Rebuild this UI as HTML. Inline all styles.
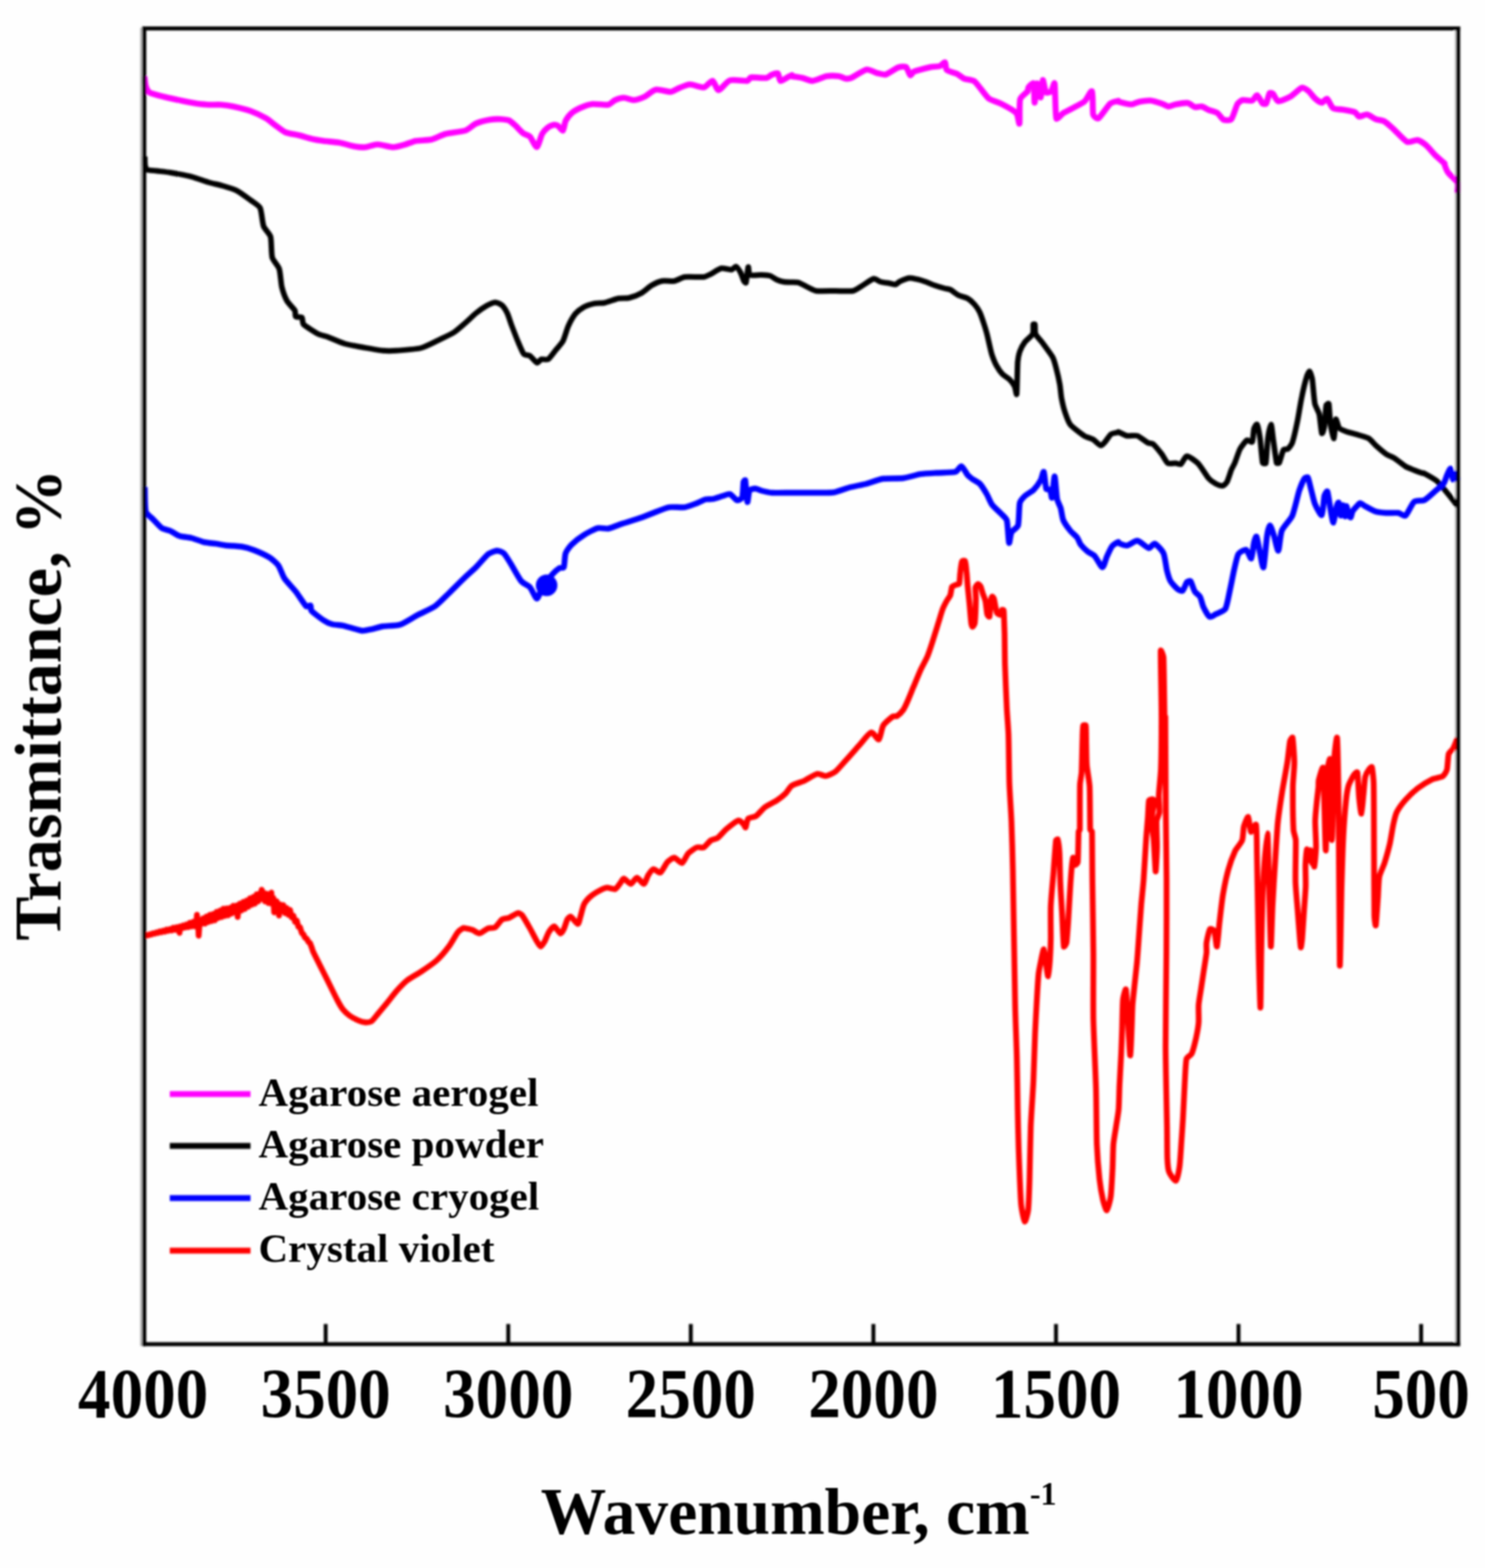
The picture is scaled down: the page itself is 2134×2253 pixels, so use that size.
<!DOCTYPE html>
<html lang="en"><head><meta charset="utf-8"><title>FTIR spectra</title>
<style>html,body{margin:0;padding:0;background:#fefefe}body{width:2134px;height:2253px;overflow:hidden}svg{display:block}text{font-family:"Liberation Serif",serif;font-weight:bold;fill:#000}</style>
</head><body>
<svg width="2134" height="2253" viewBox="0 0 2134 2253">
<defs><clipPath id="plot"><rect x="204.1" y="40.8" width="1894.3" height="1890.6"/></clipPath>
<filter id="soft" x="0" y="0" width="2134" height="2253" filterUnits="userSpaceOnUse"><feGaussianBlur stdDeviation="1.7"/></filter>
<filter id="softt" x="0" y="0" width="2134" height="2253" filterUnits="userSpaceOnUse"><feGaussianBlur stdDeviation="1.2"/></filter></defs>
<rect x="0" y="0" width="2134" height="2253" fill="#fefefe"/>
<g filter="url(#soft)">
<line x1="202.7" y1="39.8" x2="202.7" y2="1933.9" stroke="#b4b4b4" stroke-width="2.6"/>
<line x1="2091.2" y1="43.8" x2="2091.2" y2="1928.4" stroke="#d8d8d8" stroke-width="2"/>
<g clip-path="url(#plot)">
<path d="M207.5 110.0C207.7 111.6 208.6 121.1 209.5 123.8C210.3 126.1 212.8 131.8 215.0 133.0C218.3 134.8 232.2 138.2 237.5 139.5C243.0 140.9 257.2 143.9 262.5 145.0C267.2 146.0 278.1 148.1 282.5 148.8C286.6 149.3 295.9 150.3 300.0 150.5C304.1 150.7 313.4 150.2 317.5 150.5C321.6 150.8 331.0 152.1 335.0 153.0C340.0 154.1 354.5 157.5 360.0 159.5C365.5 161.5 378.4 167.7 382.5 170.0C385.7 171.8 392.0 177.3 395.0 179.5C398.2 181.8 406.1 188.3 410.0 190.0C414.1 191.8 425.4 193.3 430.0 194.5C434.7 195.7 445.9 199.1 450.0 200.0C453.5 200.8 461.5 202.0 465.0 202.5C469.4 203.1 482.3 204.1 487.5 205.0C492.8 205.9 505.6 209.7 510.0 210.5C513.5 211.1 521.5 211.8 525.0 211.5C528.8 211.2 538.3 207.5 542.5 207.5C547.2 207.5 560.3 211.5 565.0 211.5C569.2 211.5 578.7 208.6 582.5 207.5C586.1 206.5 593.9 203.2 597.5 202.5C601.9 201.7 615.0 201.7 620.0 200.5C624.9 199.3 635.1 193.8 640.0 192.5C645.7 191.0 663.9 189.2 669.0 187.5C673.0 186.1 680.2 179.2 684.0 177.5C688.1 175.7 699.9 172.7 704.0 172.0C707.4 171.4 715.8 171.1 719.0 171.2C721.9 171.4 728.9 171.8 731.5 173.0C734.1 174.2 739.3 179.2 741.5 181.2C743.8 183.4 749.2 189.5 751.5 191.2C753.6 192.8 759.7 194.4 761.5 196.2C763.8 198.6 769.5 211.7 771.5 211.2C773.5 210.8 777.2 195.7 779.0 192.5C780.3 190.1 784.6 185.3 786.5 183.8C788.3 182.3 793.5 179.9 795.2 179.5C796.7 179.2 800.2 179.8 801.5 180.5C803.1 181.4 807.7 188.3 809.0 187.5C810.3 186.7 811.3 176.7 812.8 173.8C814.2 170.8 819.0 164.7 821.5 162.5C824.0 160.3 830.9 156.4 834.0 155.0C837.5 153.5 847.2 150.0 851.5 149.5C856.2 149.0 870.2 151.2 874.0 150.5C876.8 150.0 881.4 144.9 884.0 143.8C886.6 142.6 893.5 140.5 896.5 140.5C899.7 140.5 908.0 144.0 911.5 143.8C915.0 143.5 923.2 140.3 926.5 138.8C930.1 137.0 938.4 129.5 942.8 128.8C947.1 128.0 960.1 132.3 964.0 132.0C967.2 131.8 973.5 127.4 976.5 126.2C979.7 125.0 987.8 121.3 991.5 121.2C995.6 121.2 1007.7 126.1 1011.5 125.5C1015.1 124.9 1021.5 115.8 1024.0 116.2C1026.5 116.7 1029.8 129.6 1032.8 129.5C1035.7 129.4 1044.2 117.0 1049.0 115.5C1053.8 114.0 1070.5 116.7 1074.0 116.2C1075.6 116.0 1077.4 111.5 1079.0 111.2C1082.2 110.8 1098.0 112.4 1101.5 112.0C1103.5 111.7 1107.1 108.3 1109.0 107.5C1110.9 106.7 1116.3 104.5 1117.8 105.5C1119.2 106.5 1119.9 115.6 1121.5 116.2C1123.1 116.9 1129.6 112.2 1131.5 111.2C1133.0 110.5 1137.2 108.2 1138.0 108.0C1138.3 107.9 1137.7 109.4 1138.0 109.5C1139.8 110.0 1149.5 111.2 1153.0 112.0C1156.5 112.8 1164.4 116.5 1168.0 116.2C1172.1 116.0 1183.6 110.3 1188.0 109.5C1192.0 108.8 1202.3 109.1 1205.5 109.5C1208.0 109.8 1213.5 112.7 1215.5 113.0C1217.2 113.2 1221.4 112.7 1223.0 112.0C1226.5 110.5 1241.1 100.8 1245.5 100.0C1249.1 99.3 1257.3 104.2 1260.5 105.0C1263.4 105.7 1270.1 107.8 1273.0 107.0C1276.5 106.1 1287.1 98.3 1290.5 97.0C1293.0 96.1 1299.7 95.0 1301.8 96.2C1303.8 97.5 1306.7 107.2 1308.0 108.0C1309.3 108.8 1311.5 103.6 1313.0 103.0C1316.5 101.6 1333.6 97.2 1338.0 96.2C1340.9 95.6 1348.2 95.8 1350.5 95.0C1352.6 94.3 1356.8 88.9 1358.0 89.5C1359.2 90.1 1358.6 98.7 1360.5 100.5C1362.5 102.5 1372.6 104.8 1375.5 106.2C1378.0 107.5 1382.9 111.9 1385.5 113.0C1388.4 114.3 1397.7 114.7 1400.5 117.0C1404.6 120.3 1416.1 137.5 1420.5 141.2C1423.9 144.1 1434.1 146.7 1438.0 148.8C1442.7 151.2 1457.3 159.1 1460.5 162.5C1463.0 165.2 1464.4 179.8 1465.0 177.5C1465.6 175.2 1464.6 147.9 1466.0 142.5C1466.9 139.0 1475.3 133.2 1476.8 131.2C1477.5 130.1 1477.2 126.6 1478.0 125.5C1479.0 124.2 1484.7 118.0 1485.5 120.0C1486.5 122.6 1486.2 147.5 1486.8 147.5C1487.3 147.5 1489.5 120.9 1490.5 120.0C1491.5 119.1 1494.6 140.6 1495.5 140.0C1496.4 139.4 1497.6 115.9 1498.5 115.0C1499.4 114.1 1501.6 130.6 1503.0 132.5C1504.1 133.9 1509.2 132.5 1510.5 131.2C1512.0 129.8 1515.0 117.2 1515.5 120.0C1516.4 124.5 1516.5 165.0 1518.0 170.0C1518.8 172.8 1525.5 164.0 1528.0 162.5C1532.7 159.7 1553.2 149.9 1558.0 146.2C1561.5 143.6 1567.7 129.1 1569.2 131.2C1570.8 133.4 1569.9 160.5 1571.0 165.0C1571.5 167.0 1576.7 171.2 1578.5 170.0C1581.4 168.1 1592.2 151.7 1595.5 148.8C1597.6 146.9 1605.7 145.3 1607.0 145.0C1607.3 144.9 1606.7 146.2 1607.0 146.2C1609.2 146.8 1622.2 150.0 1625.8 150.0C1628.5 150.0 1634.3 146.8 1637.0 146.2C1640.2 145.6 1649.5 144.2 1653.2 144.5C1657.0 144.8 1666.4 147.8 1669.5 148.8C1671.9 149.5 1677.2 152.9 1679.5 153.0C1681.8 153.1 1687.1 150.4 1689.5 150.0C1692.7 149.4 1703.8 147.6 1707.0 148.0C1709.7 148.4 1714.7 153.2 1717.0 153.8C1719.3 154.3 1724.7 152.5 1727.0 153.0C1729.3 153.5 1734.6 157.0 1737.0 158.0C1739.6 159.1 1747.0 160.9 1749.5 162.5C1752.0 164.1 1755.9 171.0 1758.2 172.0C1760.6 173.0 1767.8 173.2 1769.5 171.2C1771.8 168.6 1776.4 152.7 1778.2 149.5C1779.4 147.6 1783.6 144.3 1785.8 143.8C1788.2 143.2 1797.1 145.3 1799.5 144.5C1801.8 143.8 1804.8 136.5 1806.5 137.0C1808.2 137.5 1813.0 147.4 1814.5 148.8C1815.4 149.5 1818.9 149.7 1819.5 148.8C1820.7 147.0 1823.3 135.4 1824.5 133.8C1825.2 132.8 1828.6 134.2 1829.5 135.0C1831.0 136.4 1834.1 145.1 1837.0 145.5C1839.9 145.9 1850.7 140.9 1854.5 138.8C1858.4 136.5 1867.7 127.1 1870.8 126.2C1873.3 125.5 1878.7 129.6 1880.8 131.2C1882.9 133.0 1887.3 139.4 1889.5 141.2C1891.6 143.1 1897.5 147.4 1899.5 147.5C1901.5 147.6 1905.1 141.1 1907.0 142.0C1908.9 142.9 1913.1 153.7 1915.8 155.5C1918.4 157.3 1926.3 156.9 1929.5 157.5C1933.1 158.2 1944.2 160.1 1947.0 161.2C1948.9 162.1 1951.2 167.1 1953.2 167.5C1955.3 167.9 1961.8 164.1 1964.5 164.5C1967.3 164.9 1974.1 170.1 1977.0 171.2C1979.8 172.4 1986.9 173.0 1989.5 174.5C1992.4 176.1 1999.2 182.5 2002.0 185.0C2005.8 188.4 2017.9 201.9 2022.0 203.8C2025.2 205.2 2033.8 200.7 2037.0 201.2C2040.2 201.8 2046.9 206.5 2049.5 208.8C2052.4 211.2 2058.9 219.4 2062.0 222.5C2065.1 225.6 2074.5 233.6 2076.0 235.0C2076.2 235.2 2075.1 234.3 2075.2 234.5C2075.7 236.0 2078.6 244.7 2080.5 247.3C2082.7 250.6 2092.7 258.8 2094.3 262.3C2095.8 265.4 2094.3 275.4 2094.3 277.2" fill="none" stroke="#ff00ff" stroke-width="8.6" stroke-linejoin="round" stroke-linecap="butt"/>
<path d="M208.0 225.0C208.1 226.5 208.1 235.3 208.5 237.5C208.8 239.1 209.8 243.1 211.2 243.8C213.2 244.7 221.8 245.1 225.0 245.5C228.9 246.0 240.4 247.2 245.0 248.0C250.8 249.0 268.6 252.1 275.0 253.8C281.0 255.3 294.8 260.5 300.0 262.0C304.6 263.4 315.4 265.6 320.0 267.0C324.7 268.4 335.6 271.5 340.0 273.8C344.7 276.1 356.1 284.6 360.0 287.5C363.3 290.0 371.9 295.0 373.8 298.8C375.9 303.1 377.0 320.2 378.8 325.0C380.2 329.0 387.6 335.9 388.8 340.0C390.2 345.2 389.8 364.6 391.2 370.0C392.4 374.3 399.9 382.0 401.2 386.2C402.9 391.2 403.7 407.1 405.0 412.5C406.2 417.3 410.3 428.6 412.5 432.5C414.5 436.1 422.3 443.6 423.8 446.2C424.8 448.1 423.8 453.8 425.0 455.0C426.2 456.2 432.4 454.9 433.8 456.2C435.1 457.6 434.5 464.5 436.2 466.2C439.0 469.0 453.6 478.0 457.5 480.0C460.2 481.4 467.1 482.7 470.0 483.8C474.4 485.4 489.2 492.0 495.0 493.8C500.7 495.5 514.1 497.7 520.0 498.8C526.4 499.9 544.2 503.2 550.0 503.8C554.6 504.2 565.3 504.1 570.0 503.8C576.4 503.3 598.0 501.8 605.0 500.0C611.2 498.4 624.5 491.4 630.0 488.8C635.3 486.2 648.0 480.4 652.5 477.5C656.7 474.8 665.3 467.0 669.0 463.8C672.6 460.6 680.5 452.8 684.0 450.0C687.3 447.3 695.8 441.3 699.0 439.5C701.7 438.0 708.9 434.6 711.5 434.5C714.0 434.4 719.6 437.1 721.5 438.8C723.5 440.6 727.6 447.2 729.0 450.0C730.6 453.4 733.7 463.4 735.2 467.5C737.0 472.2 742.0 485.2 744.0 490.0C745.9 494.4 750.7 506.3 752.8 508.8C754.1 510.4 759.7 510.1 761.5 511.2C763.7 512.7 769.6 520.7 771.5 521.2C773.3 521.8 776.0 516.8 777.8 516.2C779.6 515.7 785.8 517.5 787.8 516.2C790.2 514.6 796.5 505.6 799.0 502.5C801.4 499.6 807.3 493.3 809.0 490.0C811.0 486.1 814.5 473.3 816.5 468.8C818.4 464.5 823.9 454.5 826.5 451.2C828.9 448.4 835.8 443.0 839.0 441.2C842.2 439.5 850.5 437.0 854.0 436.2C857.4 435.5 865.6 435.7 869.0 435.0C873.1 434.1 884.9 429.6 889.0 428.8C892.4 428.1 900.6 428.8 904.0 428.0C907.8 427.1 917.7 423.4 921.5 421.2C925.3 419.1 933.0 412.0 936.5 410.0C939.8 408.1 947.8 404.5 951.5 403.8C955.3 403.0 965.2 404.4 969.0 403.8C972.7 403.1 980.3 398.5 984.0 398.0C989.0 397.3 1007.1 398.5 1011.5 398.0C1014.0 397.7 1019.2 394.9 1021.5 393.8C1024.4 392.3 1033.0 386.2 1036.5 385.5C1040.0 384.8 1049.0 387.8 1051.5 387.5C1053.3 387.3 1056.3 382.6 1057.8 383.0C1059.2 383.4 1062.8 389.1 1064.0 391.2C1065.3 393.7 1068.1 402.0 1069.0 403.8C1069.4 404.6 1071.7 407.1 1072.0 406.2C1072.7 403.9 1074.6 385.1 1075.2 383.8C1075.9 382.4 1075.6 393.7 1077.8 395.0C1079.9 396.3 1090.6 394.9 1094.0 395.0C1096.9 395.1 1103.9 395.4 1106.5 396.2C1109.1 397.0 1114.2 401.0 1116.5 402.0C1118.7 403.0 1124.1 404.6 1126.5 405.0C1129.0 405.4 1136.7 405.4 1138.0 405.5C1138.0 405.5 1138.0 405.5 1138.0 405.5C1139.2 405.6 1145.8 405.6 1148.0 406.2C1150.6 407.1 1157.6 411.1 1160.5 412.5C1163.4 413.9 1169.8 417.6 1173.0 418.0C1177.7 418.6 1194.4 418.0 1200.5 418.0C1206.3 418.0 1221.1 418.8 1225.5 418.0C1228.8 417.4 1235.1 412.9 1238.0 411.2C1241.5 409.2 1252.3 401.2 1255.5 400.5C1258.0 399.9 1263.0 404.3 1265.5 405.0C1268.1 405.8 1275.5 406.6 1278.0 407.0C1280.1 407.4 1285.0 409.0 1286.8 408.8C1288.5 408.5 1291.4 405.2 1293.0 404.5C1295.3 403.4 1303.8 399.9 1306.8 399.5C1309.4 399.2 1315.4 400.7 1318.0 401.2C1320.8 401.9 1327.6 404.0 1330.5 405.0C1333.4 406.0 1340.0 409.0 1343.0 410.0C1346.2 411.1 1355.4 413.8 1358.0 414.5C1359.7 415.0 1363.9 415.4 1365.5 416.2C1367.8 417.4 1375.1 423.0 1378.0 424.5C1380.8 425.9 1387.9 427.2 1390.5 428.8C1393.1 430.3 1398.5 435.2 1400.5 437.5C1402.5 439.8 1406.6 445.9 1408.0 448.8C1409.5 451.7 1411.9 459.3 1413.0 462.5C1414.2 466.0 1417.0 475.0 1418.0 478.8C1419.0 482.5 1420.9 491.4 1421.8 495.0C1422.6 498.5 1424.4 506.6 1425.5 510.0C1426.7 513.5 1430.0 521.8 1431.8 525.0C1433.5 528.1 1438.3 535.2 1440.5 537.5C1442.5 539.6 1448.5 543.0 1450.5 545.0C1452.5 547.0 1456.8 552.5 1458.0 555.0C1459.2 557.4 1460.7 568.9 1461.0 566.2C1461.5 562.2 1462.0 527.1 1462.5 520.0C1462.8 516.4 1464.3 508.4 1465.5 505.0C1466.7 501.6 1470.8 494.2 1473.0 491.2C1475.2 488.3 1482.6 482.9 1484.0 480.0C1485.4 477.1 1484.4 467.9 1484.8 466.2C1484.9 465.7 1487.1 465.7 1487.2 466.2C1487.7 467.9 1487.0 477.0 1488.2 480.0C1489.5 483.1 1495.8 489.5 1498.0 492.5C1500.9 496.4 1510.7 509.4 1513.0 513.8C1514.9 517.3 1517.0 526.2 1518.0 530.0C1519.2 534.5 1522.1 547.5 1523.0 552.5C1523.8 557.1 1524.6 567.9 1525.5 572.5C1526.4 577.2 1529.0 588.1 1530.5 592.5C1531.9 596.7 1535.2 606.6 1538.0 610.0C1541.2 613.9 1554.2 623.8 1558.0 626.2C1560.6 628.0 1567.8 629.7 1570.5 631.2C1573.3 632.9 1579.7 639.6 1581.8 640.0C1583.6 640.4 1586.7 636.4 1588.0 635.0C1589.8 633.1 1594.5 625.4 1596.8 623.8C1598.7 622.3 1605.8 621.6 1607.0 621.2C1607.2 621.2 1606.8 620.4 1607.0 620.5C1608.5 621.1 1616.4 625.6 1619.5 626.2C1622.7 626.9 1631.2 625.1 1634.5 626.2C1638.0 627.4 1646.9 634.9 1649.5 636.2C1651.1 637.1 1655.6 636.9 1657.0 638.0C1659.3 639.9 1667.0 649.3 1669.5 652.5C1671.7 655.4 1675.9 664.0 1678.2 665.5C1680.5 666.9 1687.3 665.3 1689.5 665.5C1691.3 665.6 1695.5 667.9 1697.0 667.0C1698.9 665.8 1702.8 655.6 1705.8 655.5C1708.7 655.4 1718.8 663.0 1722.0 666.2C1725.6 670.0 1734.1 684.1 1737.0 687.5C1738.9 689.7 1744.7 693.8 1747.0 695.0C1749.2 696.1 1755.1 698.3 1757.0 698.0C1758.9 697.7 1762.3 694.2 1763.2 692.5C1764.7 689.8 1768.2 678.2 1769.5 675.0C1770.5 672.6 1773.5 667.4 1774.5 665.0C1776.0 661.5 1780.0 648.8 1782.0 645.0C1783.8 641.7 1790.0 633.7 1792.0 632.5C1793.6 631.6 1798.5 636.6 1799.5 635.0C1800.7 633.1 1801.2 619.2 1802.0 616.2C1802.5 614.5 1805.5 608.5 1806.5 610.0C1807.5 611.6 1810.1 625.3 1810.8 630.0C1811.7 636.4 1813.5 660.9 1814.5 665.0C1814.7 666.0 1818.8 666.5 1819.0 665.5C1819.9 661.4 1821.1 636.5 1822.0 630.0C1822.6 625.3 1825.6 610.0 1826.5 610.0C1827.4 610.0 1828.8 625.3 1829.5 630.0C1830.4 636.4 1833.5 660.9 1834.5 665.0C1834.7 665.8 1837.8 665.8 1838.2 665.0C1839.4 662.8 1843.0 648.6 1844.5 646.2C1845.3 645.0 1849.6 645.9 1850.8 645.0C1852.2 643.8 1856.2 638.6 1857.0 636.2C1858.6 631.6 1863.0 612.3 1864.5 605.0C1866.1 597.3 1869.1 577.6 1870.8 570.0C1872.2 562.9 1876.9 544.2 1878.2 540.0C1878.8 538.4 1881.1 533.2 1882.0 533.8C1882.9 534.3 1885.3 542.3 1885.8 545.0C1886.6 550.4 1888.3 574.2 1889.5 580.0C1890.2 583.7 1894.9 591.3 1895.8 595.0C1896.9 600.0 1898.6 620.5 1899.5 622.5C1900.4 624.5 1902.9 615.0 1903.2 612.5C1904.0 607.8 1905.0 586.3 1905.8 582.5C1905.9 581.5 1909.3 579.0 1909.5 580.0C1910.2 583.2 1911.1 604.2 1912.0 610.0C1912.7 614.8 1916.1 630.9 1917.0 630.0C1917.9 629.1 1918.6 604.2 1919.5 602.5C1920.4 600.8 1922.8 613.0 1924.5 615.0C1926.2 617.0 1932.0 619.1 1934.5 620.0C1937.7 621.2 1948.2 623.8 1952.0 625.0C1955.5 626.1 1964.1 628.2 1967.0 630.0C1969.8 631.7 1974.5 637.8 1977.0 640.0C1979.9 642.6 1988.8 650.3 1992.0 652.5C1994.7 654.3 2001.7 657.0 2004.5 658.8C2007.7 660.8 2016.3 668.0 2019.5 670.0C2022.2 671.7 2029.1 674.3 2032.0 675.5C2034.9 676.7 2042.9 679.5 2044.5 680.0C2044.8 680.1 2045.6 679.6 2045.9 679.7C2048.3 681.0 2060.8 687.7 2064.7 691.0C2068.7 694.5 2077.4 705.5 2080.9 709.7C2084.2 713.7 2093.0 725.1 2094.6 727.1" fill="none" stroke="#000000" stroke-width="8.0" stroke-linejoin="round" stroke-linecap="butt"/>
<path d="M208.0 700.0C208.2 704.1 208.1 729.6 209.5 735.0C210.4 738.5 217.5 743.7 220.0 746.2C222.7 749.0 229.6 756.8 232.5 758.8C235.1 760.5 242.2 761.7 245.0 763.0C247.9 764.3 254.3 768.9 257.5 770.0C261.0 771.2 271.0 772.0 275.0 773.0C279.1 774.0 288.4 777.8 292.5 778.8C296.5 779.7 306.2 780.7 310.0 781.2C313.5 781.8 321.5 783.4 325.0 783.8C329.4 784.2 342.8 784.7 347.5 785.5C351.7 786.2 361.0 788.9 365.0 790.5C369.7 792.3 383.4 798.7 387.5 801.2C390.8 803.3 397.7 809.3 400.0 812.5C402.5 816.0 406.1 827.2 408.8 831.2C411.7 835.6 421.4 845.4 425.0 850.0C428.6 854.7 437.5 868.9 440.0 871.2C441.1 872.3 445.4 869.3 446.2 870.0C447.1 870.7 446.3 876.2 447.5 877.5C449.7 880.0 461.5 889.0 465.0 891.2C467.7 893.0 474.4 896.2 477.5 897.0C480.7 897.9 489.1 898.0 492.5 898.8C497.5 899.8 515.0 905.7 520.0 906.2C523.5 906.7 531.5 904.5 535.0 903.8C538.5 903.0 546.4 900.6 550.0 900.0C554.7 899.3 569.4 899.3 575.0 897.5C580.8 895.6 594.2 886.8 600.0 883.8C605.8 880.7 619.8 874.9 625.0 871.2C630.2 867.6 640.4 856.9 645.0 852.5C650.1 847.5 664.5 833.1 669.0 828.8C672.4 825.5 680.6 818.4 684.0 815.0C687.8 811.2 698.0 799.0 701.5 796.2C704.0 794.3 711.4 791.4 714.0 791.2C716.5 791.1 722.2 793.3 724.0 795.0C726.3 797.2 731.8 806.4 734.0 810.0C736.9 814.7 745.8 831.1 749.0 835.0C751.2 837.8 759.1 841.1 761.5 843.8C764.1 846.7 769.5 859.9 771.5 860.0C773.5 860.1 776.9 848.3 779.0 845.0C781.6 840.9 791.1 828.4 794.0 825.0C796.0 822.7 802.1 817.4 804.0 816.2C805.3 815.5 809.7 816.4 810.2 815.0C811.3 812.5 811.4 798.8 812.8 795.0C813.9 791.6 819.0 785.0 821.5 782.5C824.6 779.4 834.6 771.5 839.0 768.8C843.4 766.0 854.9 759.8 859.0 758.8C862.4 757.9 870.6 760.1 874.0 759.5C878.1 758.8 889.3 754.1 894.0 752.5C899.5 750.7 915.7 745.8 921.5 743.8C926.8 741.9 939.3 736.8 944.0 735.0C948.1 733.5 957.2 729.4 961.5 728.8C966.2 728.0 979.3 729.4 984.0 728.8C988.3 728.1 998.0 724.3 1001.5 723.0C1004.5 721.9 1011.4 718.2 1014.0 717.5C1016.3 716.9 1021.7 717.5 1024.0 717.0C1026.9 716.4 1036.1 713.3 1039.0 712.5C1041.3 711.9 1046.7 709.3 1049.0 710.0C1051.3 710.7 1057.0 718.2 1059.0 718.8C1060.9 719.3 1065.8 716.8 1066.5 715.0C1067.6 711.9 1068.0 695.4 1068.5 692.5C1068.6 691.7 1070.8 689.2 1071.0 690.0C1071.6 693.4 1073.3 719.5 1074.0 721.2C1074.7 723.0 1075.7 707.2 1077.0 705.0C1078.0 703.2 1083.3 702.0 1085.2 702.0C1087.2 702.0 1091.9 704.5 1094.0 705.0C1096.8 705.7 1105.4 707.8 1109.0 708.0C1114.1 708.4 1131.2 708.0 1138.0 708.0C1144.9 708.0 1161.0 708.1 1168.0 708.0C1175.0 707.9 1191.9 708.4 1198.0 707.5C1203.4 706.7 1215.2 701.9 1220.5 700.5C1226.0 699.0 1240.0 696.5 1245.5 695.0C1250.8 693.6 1262.6 688.8 1268.0 688.0C1274.1 687.1 1291.6 687.8 1298.0 687.0C1303.9 686.3 1317.5 682.1 1323.0 681.2C1328.2 680.4 1340.2 679.8 1345.5 679.5C1351.3 679.1 1368.8 679.1 1373.0 678.0C1375.7 677.3 1379.7 669.5 1381.8 670.0C1383.8 670.5 1388.6 680.3 1390.5 682.5C1392.0 684.2 1396.1 687.4 1398.0 688.8C1400.0 690.2 1406.1 693.0 1408.0 695.0C1410.3 697.5 1416.0 706.5 1418.0 710.0C1420.0 713.4 1423.2 721.8 1425.5 725.0C1427.8 728.2 1435.5 734.9 1438.0 737.5C1440.1 739.8 1445.9 744.5 1446.8 747.5C1448.2 752.5 1449.2 778.0 1450.0 780.0C1450.8 782.0 1452.0 767.9 1453.5 765.0C1455.0 762.1 1462.1 758.1 1463.0 755.0C1464.4 750.0 1464.3 727.5 1465.5 722.5C1466.2 719.7 1470.9 714.5 1473.0 712.5C1475.3 710.3 1483.0 706.3 1485.5 703.8C1488.1 701.1 1493.8 693.0 1495.5 690.0C1497.0 687.4 1499.1 676.5 1500.0 678.0C1500.9 679.5 1502.4 699.5 1503.5 702.5C1504.0 703.8 1508.5 702.6 1509.2 703.8C1510.2 705.2 1511.0 717.2 1511.8 715.0C1512.5 712.8 1514.6 684.2 1515.5 684.5C1516.4 684.8 1518.2 712.2 1519.2 717.5C1519.8 720.6 1523.4 727.0 1524.2 730.0C1525.3 733.5 1526.4 743.7 1528.0 747.5C1529.6 751.3 1535.7 759.6 1538.0 762.5C1540.1 765.1 1546.2 770.2 1548.0 772.5C1549.6 774.6 1551.4 780.4 1553.0 782.5C1554.8 784.8 1560.7 790.6 1563.0 792.5C1565.1 794.2 1571.1 796.7 1573.0 798.8C1575.5 801.4 1582.2 814.9 1584.2 815.0C1586.3 815.1 1588.9 803.4 1590.5 800.0C1592.1 796.5 1596.1 787.5 1598.0 785.0C1599.6 783.0 1606.0 779.3 1607.0 778.8C1607.3 778.6 1606.7 779.9 1607.0 780.0C1608.5 780.6 1616.5 784.1 1619.5 783.8C1622.7 783.4 1630.9 776.6 1634.5 777.0C1638.1 777.4 1647.8 787.0 1650.8 787.5C1653.2 787.9 1657.1 780.4 1659.5 781.2C1662.0 782.1 1670.2 791.0 1672.0 795.0C1674.0 799.5 1675.8 815.3 1677.0 820.0C1677.9 823.6 1680.2 831.9 1682.0 835.0C1683.7 838.0 1690.0 844.6 1692.0 846.2C1693.5 847.4 1698.0 849.8 1699.5 848.8C1701.1 847.6 1704.4 837.9 1705.8 836.2C1706.5 835.3 1710.0 834.1 1710.8 835.0C1712.1 836.6 1715.4 847.4 1717.0 850.0C1718.3 852.1 1723.3 855.3 1724.5 857.5C1726.0 860.1 1727.9 869.2 1729.5 872.5C1731.1 875.9 1736.2 885.1 1738.2 886.2C1740.2 887.4 1745.0 883.5 1747.0 882.5C1749.6 881.2 1758.8 878.1 1760.8 875.0C1763.1 871.2 1765.7 855.9 1767.0 850.0C1768.5 843.6 1771.8 826.3 1773.2 820.0C1774.5 814.4 1777.5 799.8 1779.5 796.2C1781.0 793.7 1788.6 789.3 1790.8 790.0C1792.9 790.7 1796.9 803.7 1798.2 802.5C1799.6 801.3 1801.1 783.6 1802.0 780.0C1802.5 777.8 1804.7 769.5 1805.8 771.2C1806.8 773.0 1809.6 789.9 1810.8 795.0C1811.8 799.7 1814.6 817.9 1815.8 815.0C1816.9 812.1 1819.7 777.0 1820.8 770.0C1821.3 766.4 1823.8 755.0 1825.0 755.0C1826.2 755.0 1829.6 766.4 1830.8 770.0C1832.2 774.2 1835.7 792.1 1837.0 791.2C1838.3 790.4 1839.7 768.3 1842.0 762.5C1844.3 756.9 1854.6 746.8 1857.0 741.2C1859.9 734.5 1865.0 711.3 1867.0 705.0C1868.4 700.8 1873.0 689.7 1874.5 687.5C1875.2 686.5 1878.9 685.2 1879.5 686.2C1880.7 688.3 1883.3 700.6 1884.5 705.0C1885.7 709.4 1887.8 719.7 1889.5 723.8C1891.2 727.8 1897.9 741.3 1899.5 740.0C1901.1 738.7 1902.3 716.4 1903.2 712.5C1903.7 710.8 1906.8 704.6 1907.5 706.2C1908.6 708.9 1911.5 729.8 1912.5 735.0C1913.2 738.7 1915.3 751.6 1916.2 750.8C1917.2 749.9 1919.9 730.8 1920.8 727.5C1921.1 726.1 1923.2 721.0 1923.8 722.2C1924.5 723.8 1926.0 740.3 1926.8 740.8C1927.5 741.2 1929.3 725.9 1930.0 726.0C1930.7 726.1 1932.2 741.9 1932.8 742.0C1933.3 742.1 1934.4 727.4 1935.0 727.2C1935.6 727.1 1937.3 738.9 1938.0 740.8C1938.3 741.6 1940.6 744.0 1941.2 743.2C1941.9 742.5 1942.7 736.4 1943.8 734.5C1944.8 732.6 1948.7 728.6 1950.0 727.2C1951.0 726.2 1953.1 723.0 1954.5 723.0C1955.9 723.0 1960.2 726.5 1962.0 727.5C1964.6 728.9 1973.5 733.9 1977.0 735.0C1980.4 736.1 1988.5 736.8 1992.0 737.0C1995.8 737.2 2006.3 736.5 2009.5 737.0C2012.0 737.4 2017.7 742.3 2019.7 740.9C2022.4 739.0 2029.0 723.5 2032.2 720.9C2035.0 718.7 2044.0 720.0 2047.2 718.4C2050.7 716.7 2059.0 708.7 2062.2 705.9C2065.1 703.4 2072.6 697.5 2074.6 694.7C2076.5 692.2 2078.5 684.7 2079.6 682.2C2080.6 680.1 2083.6 672.7 2084.6 673.5C2085.6 674.3 2087.3 688.3 2088.1 689.1C2088.9 689.9 2090.6 680.2 2091.5 680.4C2092.3 680.5 2094.8 689.2 2095.2 690.3" fill="none" stroke="#0000ff" stroke-width="8.4" stroke-linejoin="round" stroke-linecap="butt"/>
<circle cx="785.5" cy="841" r="15.5" fill="#0000ff"/>
<path d="M208.0 1344.9L210.4 1343.6L212.8 1344.0L215.2 1342.3L217.6 1342.9L220.0 1340.9L222.4 1341.6L224.8 1339.6L227.2 1340.5L229.6 1338.3L232.0 1339.6L234.4 1337.3L236.8 1338.8L239.2 1335.7L241.6 1337.7L244.0 1334.8L246.4 1337.1L248.8 1333.0L251.2 1336.2L253.6 1332.2L256.0 1335.7L258.0 1340.5L258.4 1331.2L260.8 1334.5L263.2 1329.6L265.6 1332.9L268.0 1328.3L270.4 1332.2L272.8 1325.8L275.2 1331.1L277.6 1324.5L280.0 1331.0L282.4 1323.3L283.0 1314.5L284.8 1329.8L285.5 1344.5L287.2 1321.9L289.6 1327.4L292.0 1319.5L294.4 1327.2L296.8 1316.8L299.2 1324.9L301.6 1314.4L304.0 1323.5L306.4 1313.2L308.8 1322.4L311.2 1310.2L313.6 1319.0L316.0 1308.4L318.4 1317.7L320.8 1305.6L323.2 1316.1L325.6 1305.2L328.0 1315.3L330.4 1304.4L332.8 1312.7L335.2 1301.5L337.6 1310.8L340.0 1301.0L341.5 1317.5L342.4 1309.1L344.8 1298.3L347.2 1308.3L349.6 1295.9L352.0 1306.0L354.4 1294.0L356.8 1302.9L359.2 1290.7L361.6 1300.2L364.0 1288.7L366.4 1298.5L368.8 1285.0L371.2 1295.2L373.6 1283.3L376.0 1291.7L376.0 1278.5L378.4 1283.0L380.8 1295.2L383.2 1284.1L385.6 1297.6L388.0 1287.9L390.0 1282.5L390.4 1298.7L392.8 1290.2L394.0 1311.0L395.2 1301.9L397.6 1294.9L400.0 1306.5L401.0 1315.5L402.4 1299.5L404.8 1309.2L407.2 1300.4L409.6 1312.0L412.0 1304.7L414.4 1314.5L416.8 1307.4L419.2 1318.2L421.6 1315.7L424.0 1324.6L426.4 1322.6L428.8 1331.8L431.2 1332.4L433.6 1340.4L436.0 1342.6L438.4 1347.5L440.8 1348.9L443.2 1353.3L445.6 1355.3L448.0 1361.5C448.5 1362.9 449.4 1366.2 450.0 1367.5C451.7 1371.1 459.6 1386.7 462.5 1392.5C465.4 1398.3 472.4 1412.2 475.0 1417.5C477.3 1422.2 483.0 1433.7 485.0 1437.5C486.6 1440.5 490.5 1447.4 492.5 1450.0C494.5 1452.5 499.9 1457.6 502.5 1459.5C505.1 1461.4 512.4 1465.1 515.0 1466.2C517.2 1467.2 522.8 1468.9 525.0 1469.0C527.1 1469.1 532.0 1468.6 533.8 1467.5C535.8 1466.2 540.5 1459.9 542.5 1457.5C545.0 1454.6 552.1 1446.0 555.0 1442.5C558.2 1438.6 566.5 1427.7 570.0 1423.8C573.3 1420.1 581.1 1411.8 585.0 1408.8C589.1 1405.5 600.4 1399.3 605.0 1396.2C610.0 1392.9 622.8 1384.2 627.5 1380.0C632.1 1375.8 641.5 1364.7 645.0 1360.0C648.3 1355.6 655.2 1343.1 657.5 1340.0C658.9 1338.2 663.7 1334.5 665.0 1333.8C665.8 1333.3 668.1 1333.6 669.0 1333.8C670.6 1334.0 676.7 1335.4 679.0 1336.2C681.3 1337.1 686.4 1341.5 689.0 1341.2C691.6 1341.0 698.9 1334.8 701.5 1333.8C703.7 1332.9 709.5 1333.7 711.5 1332.5C713.8 1331.0 719.2 1322.9 721.5 1321.2C723.5 1319.9 729.3 1319.7 731.5 1318.8C734.1 1317.7 741.8 1312.4 744.0 1312.0C745.6 1311.7 749.2 1313.7 750.2 1315.0C752.3 1317.5 759.0 1329.4 761.5 1333.8C763.9 1338.1 769.7 1349.4 771.5 1352.5C772.6 1354.4 775.7 1360.0 777.0 1360.0C778.3 1360.0 781.7 1354.4 782.8 1352.5C784.1 1350.0 787.4 1341.2 789.0 1338.8C790.3 1336.7 794.6 1331.0 796.5 1331.2C798.4 1331.5 803.6 1340.8 805.2 1341.2C806.9 1341.7 809.4 1336.7 810.2 1335.0C811.4 1332.7 814.1 1323.3 815.2 1321.2C816.0 1319.9 818.8 1316.4 820.2 1317.0C822.0 1317.7 828.6 1327.4 830.2 1327.5C831.9 1327.6 833.2 1319.9 834.0 1317.5C835.0 1314.3 837.5 1303.2 839.0 1300.0C840.2 1297.3 844.5 1292.0 846.5 1290.0C848.5 1288.0 854.0 1284.0 856.5 1282.5C859.4 1280.8 868.3 1276.1 871.5 1275.5C874.4 1275.0 881.7 1278.3 884.0 1277.5C886.3 1276.7 890.0 1270.5 891.5 1268.8C892.7 1267.3 894.8 1262.4 896.5 1262.5C898.2 1262.6 904.3 1270.1 906.5 1270.0C908.7 1269.9 913.1 1261.2 915.2 1261.2C917.4 1261.2 923.4 1270.4 925.2 1270.0C927.1 1269.6 929.9 1260.0 931.5 1257.5C933.0 1255.2 937.0 1249.2 939.0 1248.8C941.0 1248.3 946.7 1254.9 949.0 1253.8C951.3 1252.6 956.7 1241.2 959.0 1238.8C960.9 1236.7 966.5 1232.4 969.0 1232.5C971.5 1232.6 977.9 1240.7 980.2 1240.0C982.6 1239.3 986.5 1228.9 989.0 1226.2C991.4 1223.7 998.9 1218.5 1001.5 1217.5C1003.7 1216.7 1009.4 1218.5 1011.5 1217.5C1013.8 1216.3 1019.2 1209.1 1021.5 1207.5C1023.6 1206.1 1029.5 1205.2 1031.5 1203.8C1034.1 1201.9 1040.8 1193.9 1044.0 1191.2C1047.5 1188.3 1058.6 1179.5 1061.5 1178.8C1063.7 1178.2 1067.8 1183.8 1069.0 1185.0C1069.7 1185.7 1070.9 1189.6 1071.5 1188.8C1072.2 1187.7 1073.5 1178.1 1075.2 1176.2C1077.0 1174.4 1084.2 1174.1 1086.5 1172.5C1089.3 1170.6 1095.7 1162.5 1099.0 1160.0C1102.5 1157.4 1113.0 1152.3 1116.5 1150.0C1119.6 1147.9 1126.5 1142.5 1129.0 1140.0C1131.4 1137.6 1135.2 1130.6 1138.0 1128.8C1141.1 1126.7 1151.5 1123.8 1155.5 1122.0C1159.7 1120.0 1170.6 1112.8 1174.2 1112.0C1177.2 1111.3 1183.8 1115.4 1186.8 1115.0C1189.8 1114.6 1197.7 1110.9 1200.5 1108.8C1203.9 1106.1 1212.0 1096.3 1215.5 1092.5C1219.6 1088.0 1231.3 1074.7 1235.5 1070.0C1239.2 1065.9 1248.5 1053.4 1251.8 1052.5C1255.0 1051.6 1261.0 1063.7 1263.0 1062.5C1265.0 1061.3 1266.9 1046.3 1269.2 1042.5C1271.5 1038.7 1280.7 1031.1 1283.0 1029.5C1284.2 1028.7 1288.0 1029.5 1289.2 1028.8C1291.0 1027.6 1296.3 1022.4 1298.0 1020.0C1299.8 1017.5 1302.9 1010.5 1304.2 1007.5C1306.0 1003.6 1310.9 991.2 1313.0 986.2C1315.2 981.0 1320.7 967.6 1323.0 962.5C1325.2 957.8 1331.1 947.3 1333.0 942.5C1335.4 936.4 1342.1 915.5 1343.8 910.0C1344.9 906.6 1347.3 898.9 1348.3 895.5C1349.6 891.5 1353.2 879.0 1354.7 875.1C1355.9 872.0 1359.8 864.6 1361.1 862.3C1362.0 860.6 1364.9 857.1 1365.6 855.2C1366.4 853.0 1367.3 844.8 1368.1 843.1C1368.8 841.9 1372.1 841.1 1373.3 840.5C1374.4 840.0 1377.9 839.8 1378.4 838.6C1379.2 836.5 1379.5 825.7 1380.0 822.0C1380.4 818.4 1381.8 808.5 1382.5 806.6C1382.9 805.7 1386.3 805.1 1386.7 806.0C1387.4 807.6 1388.6 817.3 1388.9 820.7C1389.4 824.8 1390.1 836.4 1390.5 841.2C1391.0 846.5 1392.5 860.8 1393.1 866.8C1393.7 873.1 1395.1 891.6 1395.7 895.5C1395.8 896.8 1397.0 900.7 1397.6 900.7C1398.2 900.7 1400.6 896.9 1400.8 895.5C1401.3 890.8 1402.3 866.3 1402.4 860.4C1402.4 856.6 1401.4 846.8 1401.7 844.4C1401.9 842.9 1404.4 839.5 1405.2 839.3C1406.1 839.0 1408.5 841.4 1409.1 842.5C1409.9 844.0 1411.5 850.3 1412.3 852.7C1413.1 855.2 1415.6 860.9 1416.1 863.6C1416.9 867.1 1418.0 880.1 1418.7 882.8C1418.9 883.8 1421.6 887.0 1421.9 886.0C1422.5 883.7 1423.3 866.9 1423.8 863.6C1424.0 862.0 1425.2 857.5 1425.7 857.2C1426.2 856.8 1428.0 859.5 1428.3 860.4C1428.9 862.2 1430.3 870.8 1430.8 873.2C1431.2 875.0 1431.9 879.6 1432.8 880.8C1433.5 881.9 1437.0 883.9 1437.9 883.4C1438.7 882.9 1439.3 877.1 1439.8 876.4C1440.1 875.9 1442.2 876.4 1442.3 877.0C1442.7 878.9 1442.8 888.8 1443.0 892.3C1443.1 896.2 1443.5 905.9 1443.6 910.0C1443.8 917.3 1443.9 944.5 1444.2 955.0C1444.6 967.5 1446.2 1005.8 1446.8 1017.5C1447.2 1026.3 1448.9 1046.2 1449.2 1055.0C1449.7 1067.5 1450.0 1110.4 1450.5 1125.0C1450.9 1137.8 1453.0 1167.2 1453.5 1180.0C1454.1 1194.6 1455.2 1233.7 1455.5 1250.0C1456.1 1280.8 1458.1 1412.6 1458.8 1444.0C1459.1 1461.5 1460.8 1501.5 1461.2 1519.0C1461.7 1536.5 1462.2 1578.8 1462.5 1594.0C1462.7 1606.8 1463.4 1637.3 1463.8 1649.0C1464.1 1659.5 1465.1 1684.4 1465.5 1694.0C1465.9 1702.8 1466.7 1724.4 1467.5 1731.5C1468.1 1737.1 1471.3 1754.4 1472.5 1755.2C1473.7 1756.1 1477.0 1742.9 1477.5 1739.0C1478.3 1731.9 1479.2 1704.5 1479.5 1694.0C1479.9 1680.0 1480.6 1635.3 1481.2 1619.0C1481.8 1603.8 1484.3 1569.2 1485.0 1554.0C1485.7 1538.2 1486.9 1497.7 1487.5 1484.0C1488.0 1472.9 1489.4 1446.4 1490.0 1436.5C1490.5 1427.7 1491.8 1405.7 1492.5 1399.0C1493.0 1394.3 1495.4 1383.1 1496.2 1379.0C1497.0 1375.5 1499.2 1363.4 1500.0 1364.0C1500.8 1364.6 1502.3 1379.5 1503.0 1384.0C1503.7 1388.4 1505.6 1403.3 1506.2 1402.8C1506.9 1402.2 1508.4 1384.6 1508.8 1379.0C1509.2 1372.7 1509.9 1356.0 1510.0 1349.0C1510.1 1340.1 1509.6 1313.3 1510.0 1302.5C1510.4 1291.5 1512.9 1266.1 1513.8 1255.0C1514.6 1243.9 1516.8 1213.2 1517.5 1207.5C1517.6 1206.9 1519.8 1205.6 1520.0 1206.2C1520.6 1208.3 1522.2 1220.6 1522.5 1225.0C1522.9 1232.4 1523.3 1259.8 1523.8 1270.0C1524.2 1279.9 1525.7 1302.6 1526.2 1312.5C1526.8 1323.0 1528.0 1355.0 1528.8 1360.0C1529.0 1361.4 1532.2 1356.4 1532.5 1355.0C1533.2 1350.9 1534.5 1332.0 1535.0 1325.0C1535.7 1314.2 1537.9 1273.3 1538.8 1262.5C1539.3 1255.5 1541.3 1234.8 1542.0 1232.5C1542.7 1230.2 1544.2 1241.8 1545.0 1242.5C1545.8 1243.2 1548.6 1240.0 1548.8 1238.8C1549.3 1233.2 1549.7 1200.4 1550.0 1195.0C1550.0 1194.2 1551.7 1192.9 1551.7 1192.2C1551.9 1184.3 1551.6 1136.9 1552.0 1127.3C1552.1 1123.2 1554.1 1113.9 1554.3 1109.8C1554.7 1102.1 1555.3 1069.0 1555.6 1061.2C1555.7 1056.8 1556.0 1044.7 1556.6 1042.5C1556.8 1041.6 1560.2 1041.6 1560.3 1042.5C1560.8 1045.4 1560.8 1061.6 1560.9 1067.4C1561.1 1074.1 1561.2 1092.6 1561.8 1099.9C1562.4 1106.9 1565.4 1122.8 1565.8 1129.8C1566.4 1140.6 1566.3 1184.6 1566.7 1192.2C1566.7 1193.0 1569.1 1193.8 1569.2 1194.7C1569.5 1203.0 1569.6 1247.8 1569.8 1264.0C1570.0 1284.3 1571.1 1345.7 1571.2 1369.0C1571.4 1391.2 1570.8 1441.8 1571.2 1464.0C1571.7 1486.8 1574.4 1543.0 1575.0 1564.0C1575.5 1582.7 1575.7 1628.8 1576.2 1644.0C1576.7 1655.7 1579.0 1684.7 1580.0 1694.0C1580.8 1701.1 1583.8 1718.8 1585.0 1724.0C1585.8 1727.6 1589.2 1739.6 1590.5 1739.0C1591.8 1738.4 1595.6 1723.8 1596.2 1719.0C1597.2 1712.0 1598.3 1687.8 1598.8 1679.0C1599.2 1670.8 1599.4 1651.0 1600.0 1644.0C1600.5 1638.1 1602.9 1624.8 1603.8 1619.0C1604.6 1613.2 1607.0 1599.9 1607.5 1594.0C1608.1 1587.0 1608.4 1567.2 1608.8 1559.0C1609.2 1549.7 1610.8 1523.3 1611.2 1514.0C1611.6 1505.8 1612.2 1487.2 1612.5 1479.0C1612.8 1470.0 1613.1 1443.2 1613.8 1436.5C1614.1 1432.9 1617.3 1419.8 1618.0 1421.5C1618.7 1423.2 1619.6 1444.5 1620.0 1451.5C1620.5 1460.0 1622.0 1486.4 1622.5 1494.0C1622.8 1499.3 1623.8 1518.2 1624.2 1516.5C1624.7 1514.8 1625.9 1487.5 1626.2 1479.0C1626.6 1470.8 1627.1 1451.0 1627.5 1444.0C1627.9 1438.1 1629.4 1424.8 1630.0 1419.0C1630.7 1412.0 1633.2 1389.8 1633.8 1384.0C1634.1 1380.5 1634.7 1372.5 1635.0 1369.0C1635.7 1359.2 1639.0 1312.2 1640.0 1300.0C1640.7 1291.6 1642.8 1272.4 1643.4 1264.0C1644.2 1252.9 1646.4 1215.2 1647.1 1204.6C1647.6 1197.3 1649.2 1179.8 1649.6 1173.4C1650.0 1168.1 1650.4 1153.3 1651.1 1150.4C1651.4 1149.2 1654.9 1148.5 1655.9 1148.5C1656.7 1148.5 1659.0 1149.5 1659.0 1150.4C1658.8 1154.0 1654.8 1173.4 1654.6 1179.7C1654.5 1185.5 1657.2 1198.8 1657.7 1204.6C1658.3 1211.2 1659.2 1230.3 1659.6 1235.8C1659.8 1239.6 1660.5 1254.2 1660.8 1252.0C1661.2 1249.8 1662.6 1225.3 1662.7 1217.1C1662.9 1208.7 1661.7 1185.5 1662.1 1179.7C1662.3 1176.6 1665.8 1170.3 1666.1 1167.2C1666.5 1162.8 1665.1 1148.1 1665.3 1142.3C1665.6 1135.0 1668.0 1113.6 1668.3 1104.8C1668.8 1091.7 1669.2 1047.5 1669.2 1030.0C1669.2 1010.2 1667.7 944.9 1668.0 935.0C1668.1 932.5 1671.9 942.5 1672.0 945.0C1672.6 956.1 1673.2 1020.1 1673.5 1030.0C1673.5 1030.2 1674.6 1029.8 1674.6 1030.0C1674.8 1046.0 1675.1 1139.9 1675.3 1167.2C1675.5 1189.8 1676.3 1241.4 1676.4 1264.0C1676.5 1287.5 1676.4 1344.5 1676.2 1369.0C1676.1 1397.0 1674.9 1474.8 1675.0 1504.0C1675.1 1530.8 1676.7 1600.3 1677.0 1619.0C1677.2 1629.5 1677.2 1656.4 1677.5 1664.0C1677.7 1668.7 1678.5 1680.2 1680.0 1684.0C1681.3 1687.5 1688.2 1697.4 1690.0 1696.5C1691.8 1695.6 1694.3 1681.3 1695.0 1676.5C1695.9 1670.4 1697.0 1651.6 1697.5 1644.0C1698.1 1635.8 1699.5 1615.3 1700.0 1606.5C1700.6 1596.3 1701.9 1566.4 1702.5 1556.5C1703.0 1548.3 1703.8 1526.5 1705.0 1521.5C1705.6 1519.1 1711.5 1516.2 1712.5 1514.0C1714.1 1510.5 1717.6 1496.8 1718.8 1491.5C1719.9 1486.3 1722.1 1474.3 1722.5 1469.0C1722.9 1463.5 1722.1 1449.8 1722.5 1444.0C1722.9 1438.2 1725.4 1424.8 1726.2 1419.0C1727.1 1413.2 1729.1 1399.8 1730.0 1394.0C1730.9 1388.2 1733.3 1373.5 1733.8 1369.0C1734.1 1365.7 1733.3 1358.2 1733.8 1355.0C1734.3 1351.0 1737.4 1337.0 1738.8 1335.0C1739.6 1333.7 1744.4 1336.0 1745.0 1337.5C1746.2 1340.4 1747.9 1361.5 1748.8 1360.0C1749.6 1358.5 1751.5 1333.2 1752.5 1325.0C1753.5 1316.2 1756.0 1293.8 1757.5 1285.0C1758.9 1276.8 1763.0 1257.3 1765.0 1250.0C1766.8 1243.4 1772.7 1227.5 1775.0 1222.5C1776.8 1218.7 1783.6 1211.5 1785.0 1207.5C1786.5 1203.4 1786.5 1191.4 1787.5 1187.5C1788.4 1184.1 1792.6 1172.9 1793.8 1173.8C1794.9 1174.6 1796.2 1193.7 1797.5 1195.0C1798.8 1196.3 1804.2 1182.2 1805.0 1185.0C1806.0 1188.5 1806.1 1215.7 1806.2 1225.0C1806.7 1246.5 1808.2 1343.0 1808.8 1369.0C1809.2 1387.4 1810.8 1447.8 1811.2 1447.8C1811.7 1447.8 1812.1 1387.4 1812.5 1369.0C1812.9 1348.8 1814.0 1295.0 1815.0 1275.0C1815.9 1256.9 1820.2 1197.5 1821.2 1197.5C1822.3 1197.5 1823.2 1256.9 1823.8 1275.0C1824.3 1294.0 1825.7 1357.1 1826.2 1360.0C1826.8 1362.9 1828.0 1314.0 1828.8 1300.0C1829.5 1285.7 1831.6 1251.2 1832.5 1237.5C1833.3 1224.7 1835.1 1194.2 1836.2 1182.5C1837.3 1172.0 1840.9 1147.7 1842.5 1137.5C1844.1 1127.6 1848.7 1103.5 1850.0 1095.0C1851.1 1088.0 1852.9 1069.1 1853.8 1065.0C1854.1 1063.6 1857.2 1058.6 1857.5 1060.0C1858.2 1063.5 1859.9 1086.8 1860.0 1095.0C1860.1 1103.2 1858.0 1121.8 1857.9 1130.0C1857.8 1141.4 1858.3 1183.3 1858.8 1192.4C1859.0 1195.9 1861.9 1203.8 1862.1 1207.3C1862.4 1216.1 1861.3 1255.1 1861.7 1267.2C1862.0 1277.4 1864.3 1301.4 1865.0 1310.9C1865.7 1319.6 1867.4 1342.4 1867.9 1348.3C1868.2 1351.4 1869.0 1361.4 1869.4 1361.4C1869.8 1361.4 1871.0 1351.4 1871.3 1348.3C1871.8 1342.4 1873.2 1319.6 1873.8 1310.9C1874.4 1302.1 1876.0 1281.4 1876.3 1273.4C1876.5 1266.2 1875.8 1248.4 1876.0 1242.3C1876.2 1237.1 1877.5 1221.2 1878.0 1220.4C1878.6 1219.7 1880.2 1235.9 1880.8 1236.0C1881.4 1236.2 1882.7 1221.1 1883.3 1221.7C1883.8 1222.3 1885.2 1240.8 1885.8 1241.0C1886.3 1241.2 1887.6 1223.0 1888.0 1223.6C1888.3 1224.1 1888.4 1246.1 1888.7 1245.4C1889.1 1244.7 1891.1 1223.9 1891.2 1217.3C1891.4 1209.7 1889.9 1187.2 1890.0 1179.9C1890.1 1174.1 1891.4 1160.8 1892.0 1154.9C1892.5 1149.1 1894.4 1133.9 1894.7 1130.0C1894.9 1127.9 1894.5 1123.2 1895.0 1121.2C1895.8 1118.1 1900.9 1099.1 1901.3 1103.5C1902.5 1115.3 1904.4 1221.8 1905.1 1222.1C1905.9 1222.4 1906.9 1121.3 1907.7 1106.0C1907.8 1102.4 1911.2 1087.2 1911.4 1090.9C1912.2 1102.6 1913.2 1207.6 1914.0 1207.0C1914.7 1206.4 1916.9 1102.9 1917.7 1085.8C1918.1 1079.9 1921.0 1054.6 1921.5 1060.6C1922.2 1068.2 1923.3 1130.2 1923.6 1151.4C1924.0 1189.4 1924.8 1371.4 1925.3 1386.2C1925.8 1400.9 1927.3 1299.1 1927.8 1277.6C1928.3 1260.0 1929.6 1216.6 1930.4 1201.9C1931.0 1190.1 1933.3 1160.0 1934.2 1151.4C1934.7 1146.1 1936.6 1133.1 1937.9 1128.7C1939.1 1124.9 1944.0 1115.8 1945.5 1113.6C1946.3 1112.4 1950.2 1108.4 1950.6 1109.8C1951.4 1113.6 1952.4 1139.5 1953.1 1146.4C1953.6 1151.7 1955.6 1169.7 1956.4 1169.1C1957.1 1168.5 1958.7 1147.5 1959.4 1141.3C1960.0 1135.5 1961.0 1120.2 1961.9 1116.1C1962.5 1113.5 1965.8 1107.6 1967.0 1106.0C1967.8 1104.9 1971.1 1100.9 1971.5 1102.2C1972.3 1104.6 1973.9 1120.6 1974.0 1126.2C1974.4 1140.8 1974.4 1205.1 1974.5 1227.2C1974.6 1247.8 1974.7 1303.6 1975.0 1315.5C1975.1 1318.8 1976.5 1332.3 1977.1 1329.4C1977.7 1326.4 1979.5 1298.4 1980.1 1290.3C1980.6 1283.2 1981.0 1265.9 1982.1 1260.0C1983.0 1255.0 1988.2 1244.6 1989.7 1239.8C1991.4 1234.2 1995.8 1218.5 1997.3 1212.0C1998.7 1205.6 2001.1 1189.6 2002.3 1184.3C2003.2 1180.1 2005.4 1170.4 2007.3 1166.6C2009.4 1162.5 2016.6 1152.7 2020.0 1148.9C2023.5 1144.9 2033.2 1135.9 2037.6 1132.5C2042.0 1129.1 2053.7 1121.9 2057.8 1119.9C2061.1 1118.3 2070.5 1117.2 2073.0 1115.6C2075.2 1114.1 2078.6 1108.6 2079.3 1106.0C2080.3 1102.2 2080.8 1086.8 2081.8 1083.3C2082.5 1081.1 2087.0 1077.7 2088.1 1075.7C2089.6 1073.1 2093.7 1062.3 2094.4 1060.6" fill="none" stroke="#ff0000" stroke-width="8.3" stroke-linejoin="round" stroke-linecap="butt"/>
</g>
<path d="M207.2 37.9V1934.3000000000002M2095.3 37.9V1934.3000000000002" fill="none" stroke="#000" stroke-width="6.0"/>
<path d="M204.2 40.8H2098.3M204.2 1931.4H2098.3" fill="none" stroke="#000" stroke-width="5.8"/>
<line x1="468.0" y1="1931.4" x2="468.0" y2="1902.4" stroke="#000" stroke-width="5.6"/>
<line x1="730.4" y1="1931.4" x2="730.4" y2="1902.4" stroke="#000" stroke-width="5.6"/>
<line x1="992.7" y1="1931.4" x2="992.7" y2="1902.4" stroke="#000" stroke-width="5.6"/>
<line x1="1255.1" y1="1931.4" x2="1255.1" y2="1902.4" stroke="#000" stroke-width="5.6"/>
<line x1="1517.5" y1="1931.4" x2="1517.5" y2="1902.4" stroke="#000" stroke-width="5.6"/>
<line x1="1779.8" y1="1931.4" x2="1779.8" y2="1902.4" stroke="#000" stroke-width="5.6"/>
<line x1="2042.2" y1="1931.4" x2="2042.2" y2="1902.4" stroke="#000" stroke-width="5.6"/>
<line x1="244" y1="1572" x2="360" y2="1572" stroke="#ff00ff" stroke-width="8.4"/>
<line x1="244" y1="1646.5" x2="360" y2="1646.5" stroke="#000000" stroke-width="8.4"/>
<line x1="244" y1="1721.5" x2="360" y2="1721.5" stroke="#0000ff" stroke-width="8.4"/>
<line x1="244" y1="1797" x2="360" y2="1797" stroke="#ff0000" stroke-width="8.4"/>
</g>
<g filter="url(#softt)">
<text transform="translate(205.7,2036.5) scale(0.975,1.05)" font-size="96" text-anchor="middle">4000</text>
<text transform="translate(468.0,2036.5) scale(0.975,1.05)" font-size="96" text-anchor="middle">3500</text>
<text transform="translate(730.4,2036.5) scale(0.975,1.05)" font-size="96" text-anchor="middle">3000</text>
<text transform="translate(992.7,2036.5) scale(0.975,1.05)" font-size="96" text-anchor="middle">2500</text>
<text transform="translate(1255.1,2036.5) scale(0.975,1.05)" font-size="96" text-anchor="middle">2000</text>
<text transform="translate(1517.5,2036.5) scale(0.975,1.05)" font-size="96" text-anchor="middle">1500</text>
<text transform="translate(1779.8,2036.5) scale(0.975,1.05)" font-size="96" text-anchor="middle">1000</text>
<text transform="translate(2042.2,2036.5) scale(0.975,1.05)" font-size="96" text-anchor="middle">500</text>
<text transform="translate(777,2204) scale(0.981,1)" font-size="96">Wavenumber, cm</text>
<text transform="translate(1480,2162)" font-size="46">-1</text>
<text transform="translate(87,1351.5) rotate(-90) scale(0.988,1)" font-size="96">Trasmittance, %</text>
<text transform="translate(371.5,1588.5) scale(1.012,0.97)" font-size="58.3">Agarose aerogel</text>
<text transform="translate(371.5,1663) scale(1.012,0.97)" font-size="58.3">Agarose powder</text>
<text transform="translate(371.5,1737.5) scale(1.012,0.97)" font-size="58.3">Agarose cryogel</text>
<text transform="translate(371.5,1813) scale(1.012,0.97)" font-size="58.3">Crystal violet</text>
</g>
</svg></body></html>
